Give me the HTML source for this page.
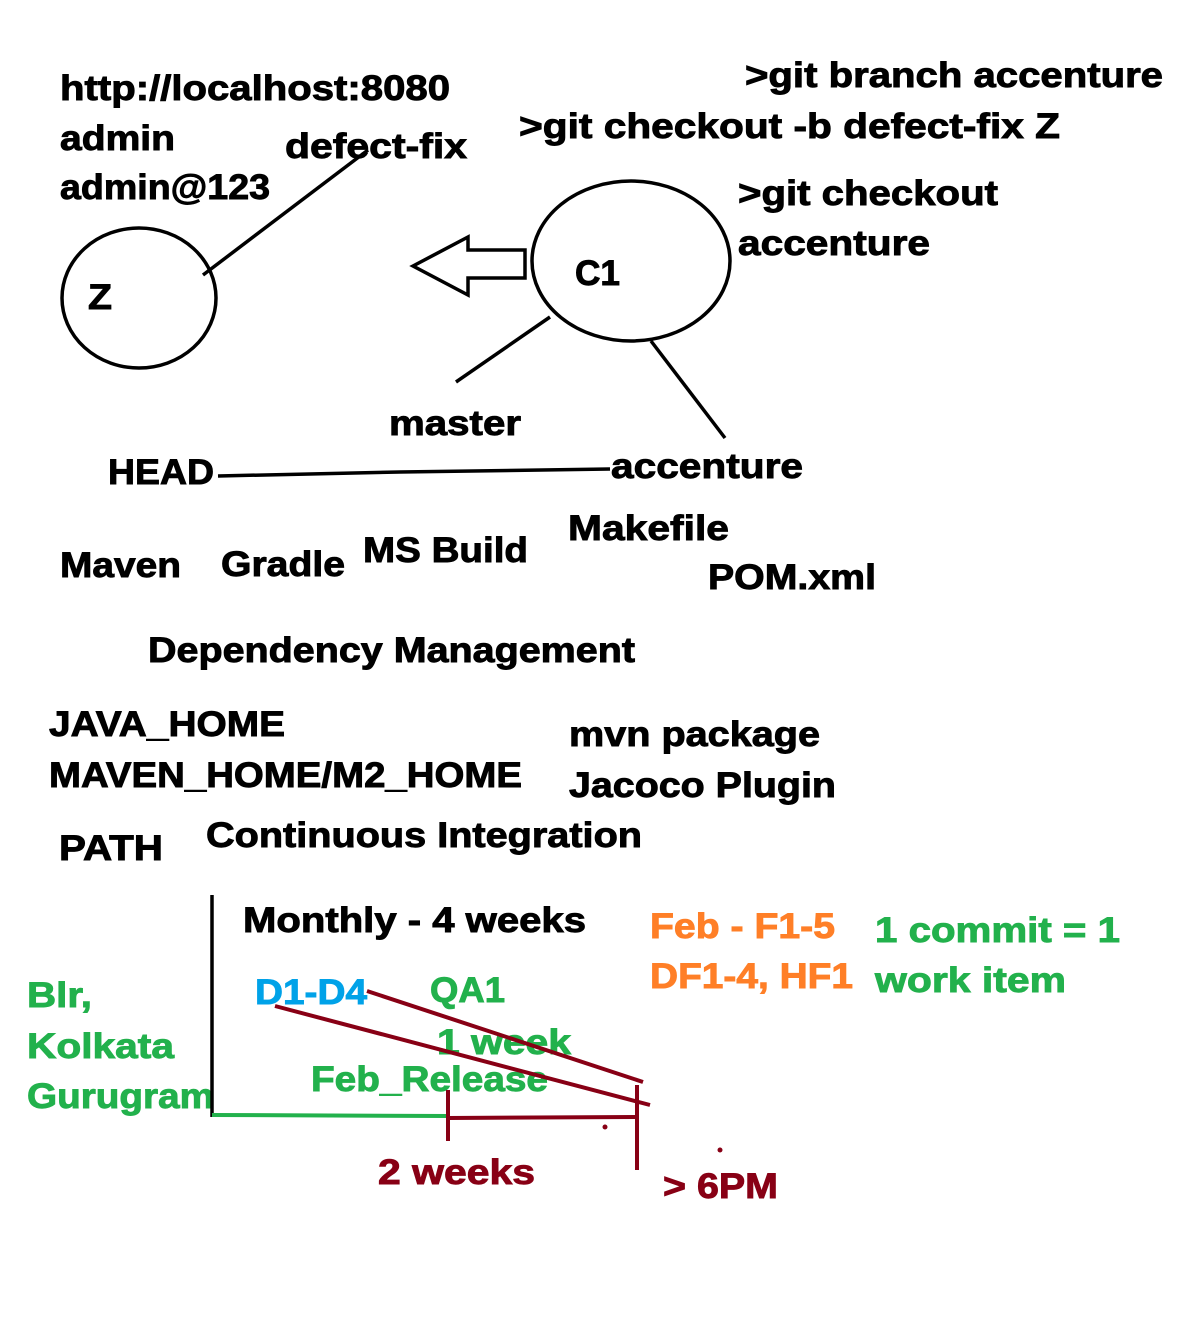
<!DOCTYPE html>
<html><head><meta charset="utf-8"><style>html,body{margin:0;padding:0;background:#fff}svg{display:block}</style></head>
<body>
<svg width="1199" height="1332" viewBox="0 0 1199 1332" xmlns="http://www.w3.org/2000/svg">
<rect width="1199" height="1332" fill="#fff"/>
<g font-family="Liberation Sans, Arial, sans-serif" font-weight="bold" font-size="35" stroke-width="0.9">
<g fill="#000" stroke="#000">
<text x="60" y="100" textLength="390" lengthAdjust="spacingAndGlyphs">http://localhost:8080</text>
<text x="60" y="150" textLength="115" lengthAdjust="spacingAndGlyphs">admin</text>
<text x="60" y="199" textLength="210" lengthAdjust="spacingAndGlyphs">admin@123</text>
<text x="285" y="158" textLength="182" lengthAdjust="spacingAndGlyphs">defect-fix</text>
<text x="745" y="87" textLength="418" lengthAdjust="spacingAndGlyphs">&gt;git branch accenture</text>
<text x="519" y="138" textLength="541" lengthAdjust="spacingAndGlyphs">&gt;git checkout -b defect-fix Z</text>
<text x="738" y="205" textLength="260" lengthAdjust="spacingAndGlyphs">&gt;git checkout</text>
<text x="738" y="255" textLength="192" lengthAdjust="spacingAndGlyphs">accenture</text>
<text x="575" y="285" textLength="45" lengthAdjust="spacingAndGlyphs">C1</text>
<text x="88" y="309" textLength="24" lengthAdjust="spacingAndGlyphs">Z</text>
<text x="389" y="435" textLength="132" lengthAdjust="spacingAndGlyphs">master</text>
<text x="108" y="484" textLength="106" lengthAdjust="spacingAndGlyphs">HEAD</text>
<text x="611" y="478" textLength="192" lengthAdjust="spacingAndGlyphs">accenture</text>
<text x="60" y="577" textLength="121" lengthAdjust="spacingAndGlyphs">Maven</text>
<text x="221" y="576" textLength="124" lengthAdjust="spacingAndGlyphs">Gradle</text>
<text x="363" y="562" textLength="165" lengthAdjust="spacingAndGlyphs">MS Build</text>
<text x="568" y="540" textLength="161" lengthAdjust="spacingAndGlyphs">Makefile</text>
<text x="708" y="589" textLength="168" lengthAdjust="spacingAndGlyphs">POM.xml</text>
<text x="148" y="662" textLength="487" lengthAdjust="spacingAndGlyphs">Dependency Management</text>
<text x="49" y="736" textLength="236" lengthAdjust="spacingAndGlyphs">JAVA_HOME</text>
<text x="49" y="787" textLength="473" lengthAdjust="spacingAndGlyphs">MAVEN_HOME/M2_HOME</text>
<text x="569" y="746" textLength="251" lengthAdjust="spacingAndGlyphs">mvn package</text>
<text x="569" y="797" textLength="267" lengthAdjust="spacingAndGlyphs">Jacoco Plugin</text>
<text x="59" y="860" textLength="104" lengthAdjust="spacingAndGlyphs">PATH</text>
<text x="206" y="847" textLength="436" lengthAdjust="spacingAndGlyphs">Continuous Integration</text>
<text x="243" y="932" textLength="343" lengthAdjust="spacingAndGlyphs">Monthly - 4 weeks</text>
</g>
<g fill="#ff7f27" stroke="#ff7f27">
<text x="650" y="938" textLength="185" lengthAdjust="spacingAndGlyphs">Feb - F1-5</text>
<text x="650" y="988" textLength="203" lengthAdjust="spacingAndGlyphs">DF1-4, HF1</text>
</g>
<g fill="#22b14c" stroke="#22b14c">
<text x="875" y="942" textLength="245" lengthAdjust="spacingAndGlyphs">1 commit = 1</text>
<text x="875" y="992" textLength="191" lengthAdjust="spacingAndGlyphs">work item</text>
<text x="27" y="1007" textLength="65" lengthAdjust="spacingAndGlyphs">Blr,</text>
<text x="27" y="1058" textLength="147" lengthAdjust="spacingAndGlyphs">Kolkata</text>
<text x="27" y="1108" textLength="187" lengthAdjust="spacingAndGlyphs">Gurugram</text>
<text x="430" y="1002" textLength="75" lengthAdjust="spacingAndGlyphs">QA1</text>
<text x="437" y="1054" textLength="134" lengthAdjust="spacingAndGlyphs">1 week</text>
<text x="311" y="1091" textLength="237" lengthAdjust="spacingAndGlyphs">Feb_Release</text>
</g>
<text x="255" y="1004" textLength="112" lengthAdjust="spacingAndGlyphs" fill="#00a2e8" stroke="#00a2e8">D1-D4</text>
<g fill="#880015" stroke="#880015">
<text x="378" y="1184" textLength="157" lengthAdjust="spacingAndGlyphs">2 weeks</text>
<text x="663" y="1198" textLength="115" lengthAdjust="spacingAndGlyphs">&gt; 6PM</text>
</g>
</g>
<g fill="none" stroke="#000" stroke-width="3.5">
<ellipse cx="139" cy="298" rx="77" ry="70"/>
<ellipse cx="631" cy="261" rx="99" ry="80"/>
<line x1="203" y1="275" x2="368" y2="150"/>
<line x1="550" y1="317" x2="456" y2="382"/>
<line x1="651" y1="341" x2="725" y2="438"/>
<polyline points="218,476 400,472 610,469"/>
<polygon points="413,266 468,237 468,250 525,250 525,278 468,278 468,295"/>
<line x1="212" y1="895" x2="212" y2="1117"/>
</g>
<line x1="212" y1="1115" x2="448" y2="1116" stroke="#22b14c" stroke-width="4"/>
<g stroke="#880015" stroke-width="4" fill="none">
<line x1="448" y1="1090" x2="448" y2="1141"/>
<line x1="448" y1="1118" x2="637" y2="1117"/>
<line x1="637" y1="1085" x2="637" y2="1170"/>
<line x1="367" y1="991" x2="643" y2="1082"/>
<line x1="275" y1="1006" x2="650" y2="1105"/>
</g>
<circle cx="605" cy="1127" r="2.5" fill="#880015"/>
<circle cx="720" cy="1150" r="2.5" fill="#880015"/>
</svg>
</body></html>
